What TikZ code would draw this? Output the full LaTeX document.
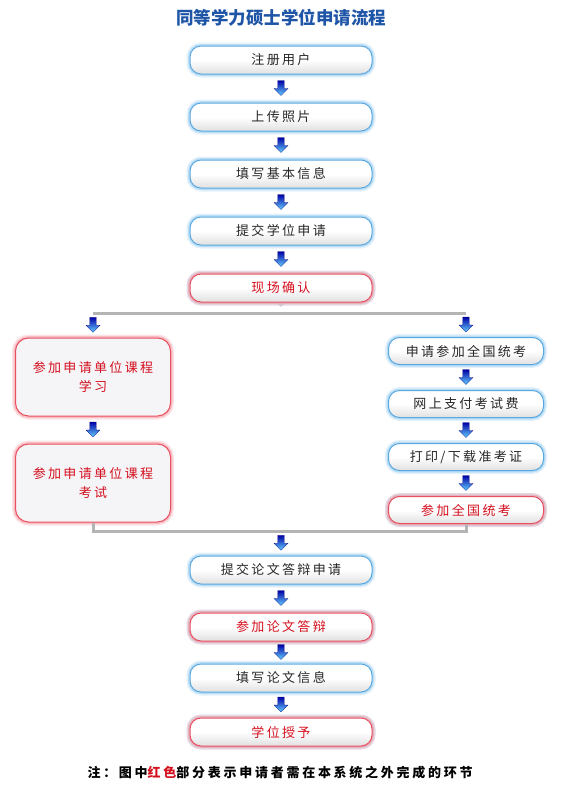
\documentclass[tikz,border=0pt]{standalone}
\usepackage{fontspec}
\newfontfamily\cjk[LetterSpace=18]{Noto Sans CJK SC}
\newfontfamily\cjknote[LetterSpace=21]{Noto Sans CJK SC}
\newfontfamily\cjktitle{Noto Sans CJK SC}
\usetikzlibrary{calc}
\definecolor{titleblue}{HTML}{1F55A6}
\definecolor{bluerim}{HTML}{5AA8E0}
\definecolor{blueglow}{HTML}{9FD0F2}
\definecolor{redrim}{HTML}{E8505F}
\definecolor{redglow}{HTML}{F5A3AC}
\definecolor{redtext}{HTML}{D4101E}
\definecolor{linegray}{HTML}{B4B4B4}
\definecolor{boxgray}{HTML}{F5F5F8}
\tikzset{
  base/.style={rounded corners=11pt, line width=1pt, align=center,
    font=\cjk\fontsize{13}{19}\selectfont, inner sep=0pt},
  bluebox/.style={base, minimum width=182pt, minimum height=28pt, draw=bluerim, text=black!85,
    top color=white, bottom color=black!12, middle color=white,
    preaction={draw=blueglow, line width=7pt, opacity=0.3},
    preaction={draw=blueglow, line width=4pt, opacity=0.6}},
  redbox/.style={bluebox, draw=redrim, text=redtext,
    preaction={draw=redglow, line width=7pt, opacity=0.3},
    preaction={draw=redglow, line width=4pt, opacity=0.6}},
  sbox/.style={minimum width=155pt, minimum height=27pt},
  bigbox/.style={base, rounded corners=13pt, minimum width=155pt, minimum height=78pt, draw=redrim,
    text=redtext, fill=boxgray,
    preaction={draw=redglow, line width=7pt, opacity=0.3},
    preaction={draw=redglow, line width=4pt, opacity=0.6}},
  grayline/.style={draw=linegray, line width=3pt},
  dnarrow/.pic={
    \shade[top color=blue!65!black, bottom color=cyan!70!blue!60, draw=blue!50!black, line width=0.3pt]
      (-3.2,-8) -- (3.2,-8) -- (3.2,0) -- (7,0) -- (0,7) -- (-7,0) -- (-3.2,0) -- cycle;
  }
}
\begin{document}
\begin{tikzpicture}[x=1pt,y=-1pt]
\useasboundingbox (0,0) rectangle (566,809);
\node[font=\cjktitle\bfseries\fontsize{17.5}{20}\selectfont, text=titleblue] (title) at (281,18) {同等学力硕士学位申请流程};

\node[bluebox] (n1) at (281,60) {注册用户};
\node[bluebox] (n2) at (281,117) {上传照片};
\node[bluebox] (n3) at (281,174) {填写基本信息};
\node[bluebox] (n4) at (281,231) {提交学位申请};
\fill[black!15] ($(281,301)+(-6,0)$) -- (281,307) -- ($(281,301)+(6,0)$) -- cycle;
\node[redbox] (n5) at (281,288) {现场确认};

\coordinate (sl) at (93,313);
\coordinate (sr) at (466,313);
\draw[grayline] (sl) -- (sr);

\node[bigbox] (L1) at (93,377) {参加申请单位课程\\学习};
\node[bigbox] (L2) at (93,483) {参加申请单位课程\\考试};

\node[bluebox,sbox] (R1) at (466,351) {申请参加全国统考};
\node[bluebox,sbox] (R2) at (466,404) {网上支付考试费};
\node[bluebox,sbox] (R3) at (466,457) {打印/下载准考证};
\node[redbox,sbox] (R4) at (466,510) {参加全国统考};

\coordinate (j) at (281,531);
\draw[grayline] (L2.south) |- (j) -| (R4.south);

\node[bluebox] (m1) at (281,570) {提交论文答辩申请};
\node[redbox] (m2) at (281,627) {参加论文答辩};
\node[bluebox] (m3) at (281,678) {填写论文信息};
\node[redbox] (m4) at (281,732) {学位授予};

\node[font=\cjknote\bfseries\fontsize{13}{15}\selectfont, text=black, anchor=west] (note) at (84,773)
  {注：图中\textcolor{redtext}{红色}部分表示申请者需在本系统之外完成的环节};

\foreach \a/\b in {n1/n2,n2/n3,n3/n4,n4/n5,L1/L2,R1/R2,R2/R3,R3/R4,m1/m2,m2/m3,m3/m4}
  \pic at ($(\a.south)!0.5!(\b.north)$) {dnarrow};
\pic at ($(sl)!0.5!(L1.north)$) {dnarrow};
\pic at ($(sr)!0.5!(R1.north)$) {dnarrow};
\pic at ($(j)!0.5!(m1.north)$) {dnarrow};
\end{tikzpicture}
\end{document}
